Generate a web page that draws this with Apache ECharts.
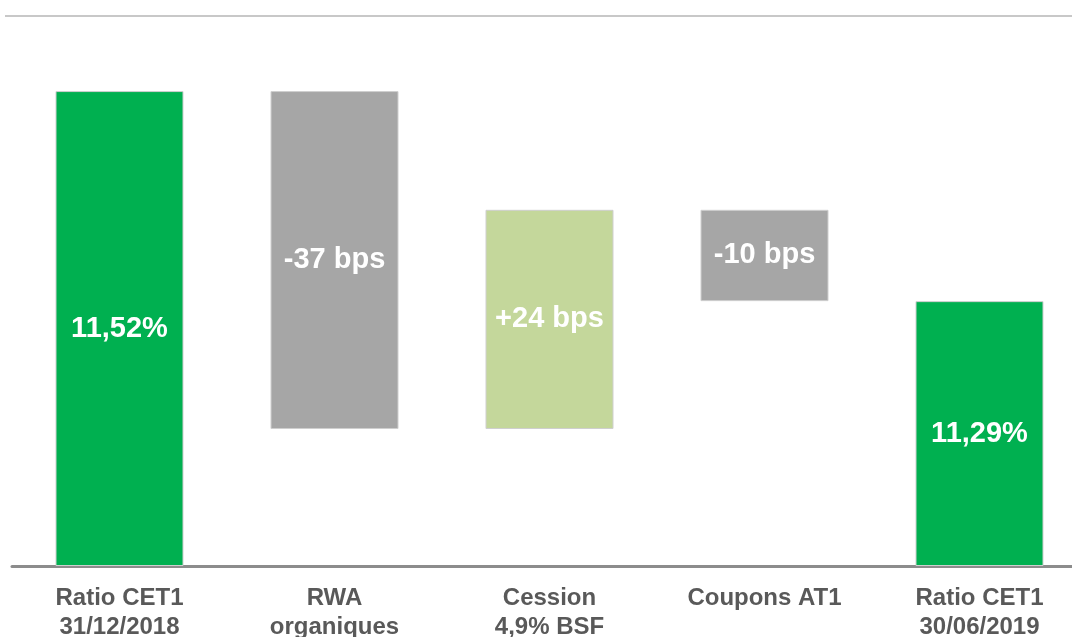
<!DOCTYPE html>
<html>
<head>
<meta charset="utf-8">
<script src="https://cdn.jsdelivr.net/npm/echarts@6/dist/echarts.min.js"></script>
<style>html,body{margin:0;padding:0;background:#fff;overflow:hidden;width:1072px;height:637px;}#c{width:1087px;height:637px;}</style>
</head>
<body>
<div id="c"></div>
<script>
const categories = ['Ratio CET1\n31/12/2018', 'RWA\norganiques', 'Cession\n4,9% BSF', 'Coupons AT1', 'Ratio CET1\n30/06/2019'];
const kinds = ['total', 'delta', 'delta', 'delta', 'total'];
const values = [11.52, -0.37, 0.24, -0.10, 11.29];
const colors = ['#00B050', '#A6A6A6', '#C4D79B', '#A6A6A6', '#00B050'];
const yMin = 11.0;
const yMax = 11.6;

const base = [], height = [], labels = [];
let running = 0;
for (let i = 0; i < values.length; i++) {
  if (kinds[i] === 'total') {
    running = values[i];
    base.push(yMin);
    height.push(+(values[i] - yMin).toFixed(4));
    labels.push(values[i].toFixed(2).replace('.', ',') + '%');
  } else {
    const start = running, end = +(running + values[i]).toFixed(4);
    base.push(Math.min(start, end));
    height.push(Math.abs(values[i]));
    const bps = Math.round(values[i] * 100);
    labels.push((bps > 0 ? '+' : '') + bps + ' bps');
    running = end;
  }
}

const chart = echarts.init(document.getElementById('c'));
chart.setOption({
  animation: false,
  grid: { left: 12, top: 18, right: 0, bottom: 71, containLabel: false, outerBoundsMode: 'none' },
  xAxis: {
    type: 'category',
    data: categories,
    axisLine: { lineStyle: { color: '#8c8c8c', width: 3 } },
    axisTick: { show: false },
    axisLabel: {
      color: '#595959', fontFamily: 'Liberation Sans, Arial, sans-serif',
      fontWeight: 'bold', fontSize: 24, lineHeight: 29, margin: 18
    }
  },
  yAxis: { type: 'value', min: yMin, max: yMax, show: false, splitLine: { show: false } },
  graphic: [{
    type: 'line', shape: { x1: 5, y1: 16, x2: 1072, y2: 16 },
    style: { stroke: '#c8c8c8', lineWidth: 2 }, silent: true
  }],
  series: [
    {
      type: 'bar', stack: 'w', data: base,
      itemStyle: { color: 'transparent' }, barWidth: 128, silent: true
    },
    {
      type: 'bar', stack: 'w', barWidth: 128,
      data: height.map((h, i) => ({ value: h, itemStyle: { color: colors[i] } })),
      itemStyle: { borderColor: '#cfcfcf', borderWidth: 1 },
      label: {
        show: true, position: 'inside', color: '#fff', fontWeight: 'bold',
        fontFamily: 'Liberation Sans, Arial, sans-serif', fontSize: 29,
        formatter: p => labels[p.dataIndex]
      }
    }
  ]
});
</script>
</body>
</html>
